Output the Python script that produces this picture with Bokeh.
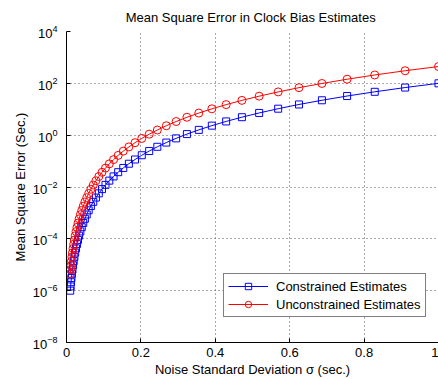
from bokeh.plotting import figure
from bokeh.models import FixedTicker, LogTickFormatter, Range1d, Legend
from bokeh.embed import file_html
from bokeh.resources import INLINE

# Noise standard deviation (sec.)
sigma = [0.0100, 0.01099, 0.01207, 0.01326, 0.01456, 0.01600, 0.01758, 0.01931, 0.02121, 0.02330,
         0.02560, 0.02812, 0.03089, 0.03393, 0.03728, 0.04095, 0.04498, 0.04942, 0.05429, 0.05964,
         0.06551, 0.07197, 0.07906, 0.08685, 0.09541, 0.1048, 0.1151, 0.1265, 0.1389, 0.1526,
         0.1677, 0.1842, 0.2024, 0.2223, 0.2442, 0.2683, 0.2947, 0.3237, 0.3556, 0.3907,
         0.4292, 0.4715, 0.5179, 0.5690, 0.6250, 0.6866, 0.7543, 0.8286, 0.9103, 1.0]

# Mean square error, constrained estimates
mse_constrained = [1.00e-6, 1.46e-6, 2.12e-6, 3.09e-6, 4.50e-6, 6.55e-6, 9.54e-6, 1.39e-5, 2.02e-5, 2.95e-5,
                   4.29e-5, 6.25e-5, 9.10e-5, 1.33e-4, 1.93e-4, 2.81e-4, 4.09e-4, 5.96e-4, 8.69e-4, 1.26e-3,
                   1.84e-3, 2.68e-3, 3.91e-3, 5.69e-3, 8.29e-3, 1.21e-2, 1.76e-2, 2.56e-2, 3.73e-2, 5.43e-2,
                   7.91e-2, 0.115, 0.168, 0.244, 0.356, 0.518, 0.754, 1.10, 1.60, 2.33,
                   3.39, 4.94, 7.20, 10.5, 15.3, 22.2, 32.4, 47.1, 68.7, 100.0]

# Mean square error, unconstrained estimates
mse_unconstrained = [4.45e-6, 6.50e-6, 9.43e-6, 1.375e-5, 2.00e-5, 2.91e-5, 4.25e-5, 6.19e-5, 8.99e-5, 1.31e-4,
                     1.91e-4, 2.78e-4, 4.05e-4, 5.92e-4, 8.59e-4, 1.25e-3, 1.82e-3, 2.65e-3, 3.87e-3, 5.61e-3,
                     8.19e-3, 1.19e-2, 1.74e-2, 2.53e-2, 3.69e-2, 5.38e-2, 7.83e-2, 0.114, 0.166, 0.242,
                     0.352, 0.512, 0.748, 1.09, 1.58, 2.31, 3.36, 4.90, 7.12, 10.4,
                     15.1, 22.0, 32.0, 46.7, 68.1, 98.8, 144.0, 210.0, 306.0, 445.0]

x_ticks = [0, 0.2, 0.4, 0.6, 0.8, 1]
x_tick_labels = ["0", "0.2", "0.4", "0.6", "0.8", "1"]
y_ticks = [1e-8, 1e-6, 1e-4, 1e-2, 1e0, 1e2, 1e4]

FONT = "Liberation Sans"
FS = "13px"

p = figure(width=438, height=379, output_backend="svg", toolbar_location=None,
           y_axis_type="log", x_range=Range1d(0, 1), y_range=Range1d(1e-8, 1e4),
           title="Mean Square Error in Clock Bias  Estimates",
           min_border_left=66, min_border_right=0, min_border_top=30, min_border_bottom=37)

p.title.align = "center"
p.title.text_font = FONT
p.title.text_font_size = FS
p.title.text_font_style = "normal"
p.title.text_color = "black"
p.title.standoff = 14

p.outline_line_color = None
p.background_fill_color = "white"
p.border_fill_color = "white"

l1 = p.line(sigma, mse_constrained, line_color="#0000ff", line_width=1)
s1 = p.scatter(sigma, mse_constrained, marker="square", size=7, line_color="#0000ff",
               fill_color=None, line_width=1)
l2 = p.line(sigma, mse_unconstrained, line_color="#ff0000", line_width=1)
s2 = p.scatter(sigma, mse_unconstrained, marker="circle", size=8, line_color="#ff0000",
               fill_color=None, line_width=1)

# axes
p.xaxis.ticker = FixedTicker(ticks=x_ticks)
p.xaxis.major_label_overrides = {t: lab for t, lab in zip(x_ticks, x_tick_labels)}
p.yaxis.ticker = FixedTicker(ticks=y_ticks)
p.yaxis.formatter = LogTickFormatter()

for ax in (p.xaxis, p.yaxis):
    ax.axis_line_color = "black"
    ax.axis_line_width = 1
    ax.major_tick_in = 4
    ax.major_tick_out = 0
    ax.minor_tick_in = 0
    ax.minor_tick_out = 0
    ax.major_tick_line_color = "black"
    ax.major_label_text_font = FONT
    ax.major_label_text_font_size = FS
    ax.major_label_text_color = "black"
    ax.axis_label_text_font = FONT
    ax.axis_label_text_font_size = FS
    ax.axis_label_text_font_style = "normal"
    ax.axis_label_text_color = "black"

p.xaxis.axis_label = "Noise Standard Deviation \u03c3 (sec.)"
p.yaxis.axis_label = "Mean Square Error (Sec.)"
p.xaxis.major_label_standoff = 5
p.xaxis.axis_label_standoff = 2
p.yaxis.major_label_standoff = 9
p.yaxis.axis_label_standoff = 2

for g in (p.xgrid, p.ygrid):
    g.grid_line_color = "#555555"
    g.grid_line_dash = "1 3"
    g.grid_line_width = 1
    g.minor_grid_line_color = None

legend = Legend(items=[("Constrained Estimates", [l1, s1]),
                       ("Unconstrained Estimates", [l2, s2])],
                location=(157, 25))
legend.label_text_font = FONT
legend.label_text_font_size = FS
legend.label_text_color = "black"
legend.glyph_width = 40
legend.glyph_height = 16
legend.label_standoff = 8
legend.label_height = 16
legend.spacing = 2
legend.padding = 4
legend.margin = 0
legend.border_line_color = "black"
legend.border_line_width = 1
legend.background_fill_color = "white"
legend.background_fill_alpha = 1
p.add_layout(legend, "center")

open("out.html", "w").write(file_html(p, INLINE))
